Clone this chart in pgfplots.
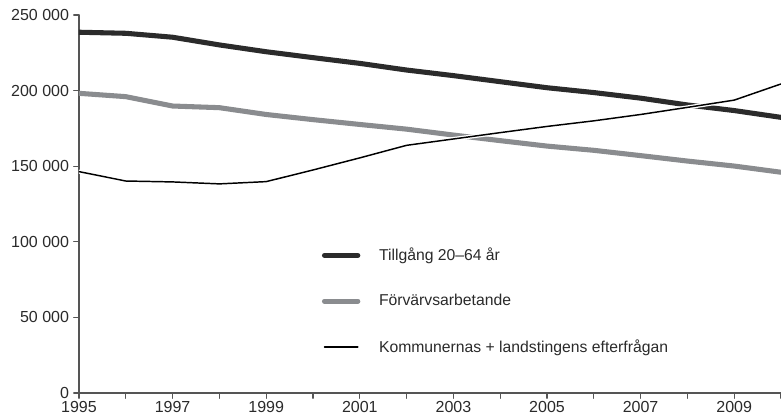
\documentclass[border=0pt]{standalone}
\usepackage{fontspec}
\setmainfont{Liberation Sans}
\usepackage{pgfplots}
\pgfplotsset{compat=1.18}
\definecolor{darkline}{HTML}{2B2B2B}
\definecolor{grayline}{HTML}{8A8C8F}
\definecolor{axisgray}{HTML}{555555}
\definecolor{txt}{HTML}{2A2A2A}
\begin{document}
\begin{tikzpicture}
\begin{axis}[
  at={(0,0)}, anchor=south west,
  scale only axis, width=526.5pt, height=283.5pt,
  xmin=1995, xmax=2010, ymin=0, ymax=250000,
  axis lines=left,
  axis line style={-, axisgray, line width=0.8pt},
  tick align=outside, major tick length=4pt,
  tick style={axisgray, line width=0.8pt},
  xtick={1995,1996,1997,1998,1999,2000,2001,2002,2003,2004,2005,2006,2007,2008,2009,2010},
  xticklabels={1995,,1997,,1999,,2001,,2003,,2005,,2007,,2009,},
  ytick={0,50000,100000,150000,200000,250000},
  yticklabels={0,50 000,100 000,150 000,200 000,250 000},
  scaled y ticks=false,
  ticklabel style={font=\fontsize{12}{14}\selectfont, text=txt},
  xticklabel style={yshift=1pt},
  legend style={draw=none, fill=none, at={(axis cs:2000.1,99600)}, anchor=north west,
    font=\fontsize{11.8}{14}\selectfont, text=txt, row sep=19.8pt,
    /tikz/every odd column/.style={column sep=12pt}},
  legend cell align=left,
  legend image code/.code={\draw[line cap=round, #1] (0.5pt,0pt) -- (25.5pt,0pt);},
  line cap=round, line join=round,
]
\addplot[darkline, line width=3.8pt] coordinates {
(1995,238600) (1996,237900) (1997,235300) (1998,230200) (1999,225700) (2000,221800)
(2001,218000) (2002,213600) (2003,209900) (2004,205900) (2005,201900) (2006,198700)
(2007,195000) (2008,190500) (2009,186800) (2010,182300)};
\addlegendentry{Tillgång 20–64 år}
\addplot[grayline, line width=3.8pt] coordinates {
(1995,198200) (1996,196000) (1997,189800) (1998,188700) (1999,184200) (2000,180800)
(2001,177600) (2002,174500) (2003,170600) (2004,166900) (2005,163300) (2006,160500)
(2007,157000) (2008,153400) (2009,150100) (2010,146000)};
\addlegendentry{Förvärvsarbetande}
\addplot[white, line width=3pt, forget plot] coordinates {
(1995,146400) (1996,140200) (1997,139600) (1998,138300) (1999,139800) (2000,147500)
(2001,155500) (2002,163800) (2003,168000) (2004,172200) (2005,176300) (2006,180000)
(2007,184200) (2008,188900) (2009,193700) (2010,204400)};
\addplot[black, line width=1.1pt] coordinates {
(1995,146400) (1996,140200) (1997,139600) (1998,138300) (1999,139800) (2000,147500)
(2001,155500) (2002,163800) (2003,168000) (2004,172200) (2005,176300) (2006,180000)
(2007,184200) (2008,188900) (2009,193700) (2010,204400)};
\addlegendentry{Kommunernas + landstingens efterfrågan}
\end{axis}
\pgfresetboundingbox
\path[use as bounding box] (0pt,0pt) ++(-59.25pt,-20.25pt) rectangle ++(585.75pt,315pt);
\end{tikzpicture}
\end{document}
